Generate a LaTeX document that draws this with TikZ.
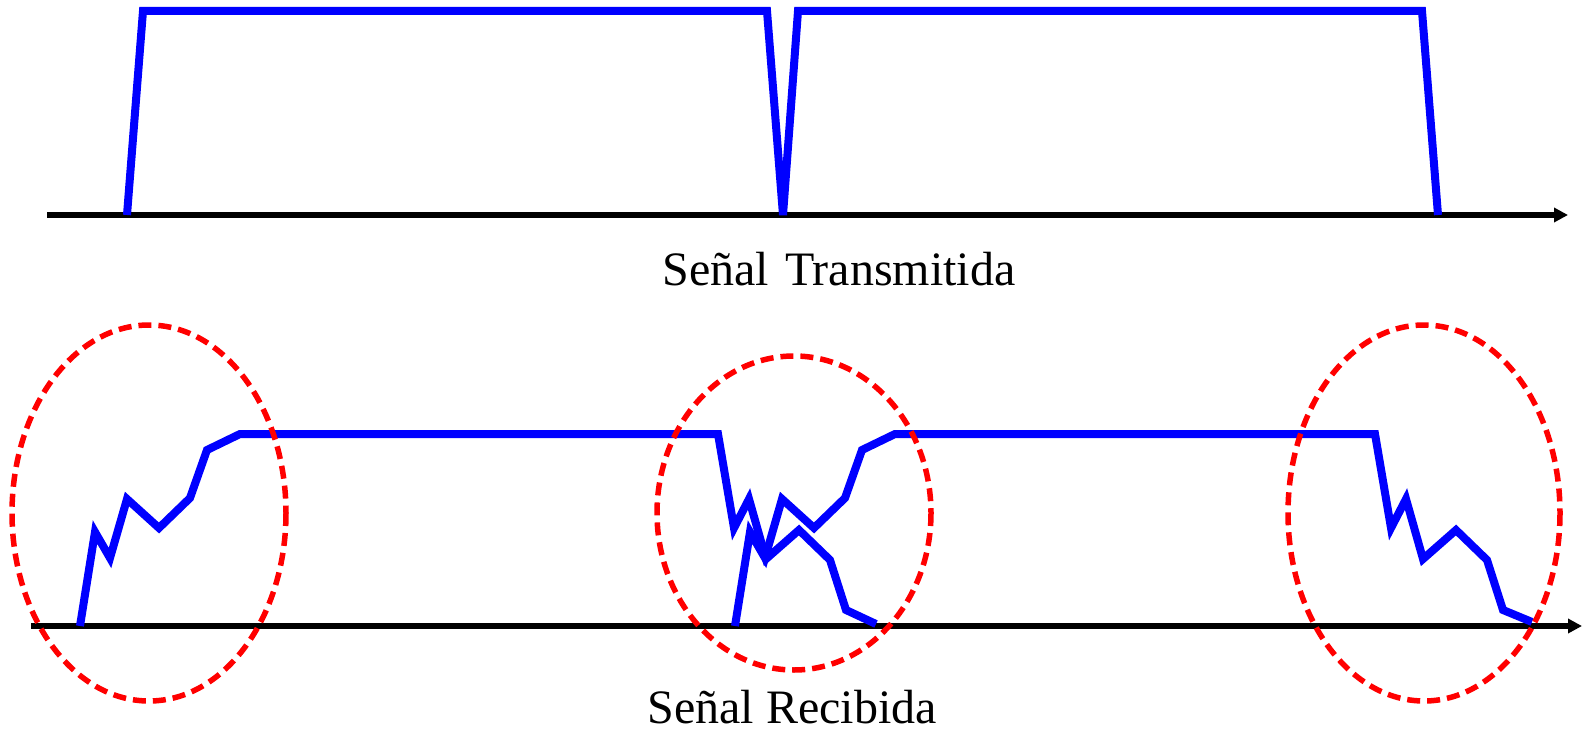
\documentclass[tikz,border=0pt]{standalone}
\usepackage{fontspec}
\setmainfont{Liberation Serif}
\usetikzlibrary{arrows.meta}
\begin{document}
\begin{tikzpicture}[x=1pt,y=-1pt,
  axis/.style={line width=6pt,-{Triangle[length=14pt,width=14pt]}},
  signal/.style={blue,line width=8pt,line join=miter},
  zone/.style={red,line width=5.5pt,dash pattern=on 13pt off 7pt},
  label/.style={anchor=base,font=\fontsize{48}{58}\selectfont,inner sep=0pt}]
\useasboundingbox (0,0) rectangle (1582,730);
% top
\coordinate (ta) at (47,215);
\coordinate (tb) at (1568,215);
\draw[axis] (ta) -- (tb);
\draw[signal] (127,215) -- (143,11) -- (767,11) -- (783,215) -- (798,11) -- (1422,11) -- (1438,215);
\node[label] (tl) at (839,285) {Señal\hspace{0.33em}Transmitida};
% bottom
\coordinate (ba) at (31,626);
\coordinate (bb) at (1582,626);
\draw[axis] (ba) -- (bb);
\draw[signal] (80,626) -- (95,532) -- (110,558) -- (127,499) -- (159,528) -- (190,498) -- (207,450) -- (240,434)
  -- (718,434) -- (734,528) -- (749,499) -- (766,559) -- (799,530) -- (830,560) -- (846,610) -- (876,624);
\draw[signal] (735,626) -- (750,532) -- (765,558) -- (782,499) -- (814,528) -- (845,498) -- (862,450) -- (895,434)
  -- (1375,434) -- (1391,528) -- (1406,499) -- (1423,559) -- (1456,530) -- (1487,560) -- (1503,610) -- (1532,622);
\draw[zone] (149,513) ellipse [x radius=137, y radius=188];
\draw[zone] (794,513) ellipse [x radius=137, y radius=157];
\draw[zone] (1424,513) ellipse [x radius=136, y radius=188];
\node[label] (bl) at (792,723) {Señal Recibida};
\end{tikzpicture}
\end{document}
